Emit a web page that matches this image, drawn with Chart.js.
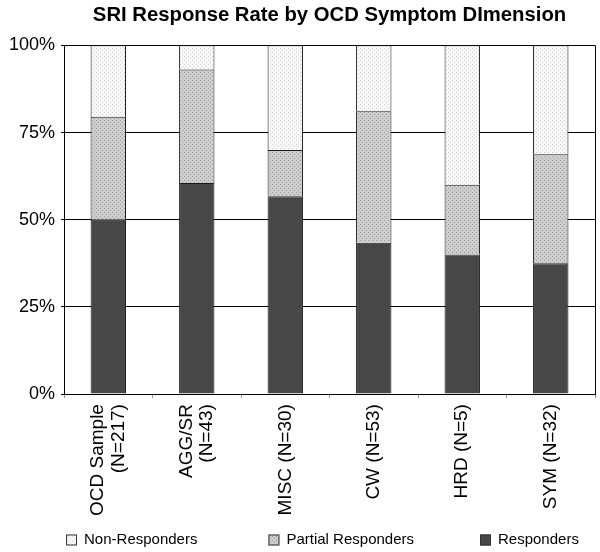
<!DOCTYPE html>
<html>
<head>
<meta charset="utf-8">
<script src="https://cdn.jsdelivr.net/npm/chart.js@4/dist/chart.umd.min.js"></script>
<style>
  html, body { margin: 0; padding: 0; background: #fff; }
  #wrap { width: 600px; height: 552px; }
</style>
</head>
<body>
<div id="wrap"><canvas id="chart"></canvas></div>
<script>
'use strict';

var categories = [['OCD Sample', '(N=217)'], ['AGG/SR', '(N=43)'], 'MISC (N=30)', 'CW (N=53)', 'HRD (N=5)', 'SYM (N=32)'];
var responders = [50, 60.5, 56.7, 43.4, 40, 37.5];
var partialResponders = [29.5, 32.6, 13.3, 37.7, 20, 31.25];
var nonResponders = [20.5, 6.9, 30, 18.9, 40, 31.25];
var yTicks = [0, 25, 50, 75, 100];

var FONT = '"Liberation Sans", Arial, Helvetica, sans-serif';

// little stipple fills like the printed figure
var makePattern = function(bg, dot) {
	var c = document.createElement('canvas');
	c.width = 4;
	c.height = 4;
	var g = c.getContext('2d');
	g.fillStyle = bg;
	g.fillRect(0, 0, 4, 4);
	g.fillStyle = dot;
	g.fillRect(0, 0, 1, 1);
	g.fillRect(2, 2, 1, 1);
	return g.createPattern(c, 'repeat');
};

var ctx = document.getElementById('chart').getContext('2d');
var nonFill = makePattern('#f7f7f7', '#d2d2d2');
var partialFill = makePattern('#cdcdcd', '#a0a0a0');
var respFill = '#474747';

// centre the title over the plot area, not the canvas
var titleShift = {
	id: 'titleShift',
	afterLayout: function(chart) {
		var t = chart.titleBlock;
		if (!t) return;
		var d = (chart.chartArea.left + chart.chartArea.right) / 2 - (t.left + t.right) / 2;
		t.left += d;
		t.right += d;
	}
};

// two-line tick labels: centre the whole block on the bar
var centreLabels = {
	id: 'centreLabels',
	beforeDraw: function(chart) {
		var items = chart.scales.x.getLabelItems();
		items.forEach(function(it) {
			if (Array.isArray(it.label) && !it._moved) {
				it.options.translation[0] -= (it.label.length - 1) * it.font.lineHeight / 2;
				it._moved = true;
			}
		});
	}
};

// right frame line + widely spaced legend row
var legendGaps = [71, 66];
var frameAndLegend = {
	id: 'frameAndLegend',
	afterDraw: function(chart) {
		var a = chart.chartArea;
		var c = chart.ctx;
		c.save();
		c.strokeStyle = '#000';
		c.lineWidth = 1;
		c.beginPath();
		c.moveTo(Math.round(a.right) + 0.5, a.top);
		c.lineTo(Math.round(a.right) + 0.5, a.bottom);
		c.stroke();

		c.font = '15px ' + FONT;
		c.textBaseline = 'middle';
		c.textAlign = 'left';
		var x = a.left + 2;
		var y = 540;
		var ds = chart.data.datasets.slice().reverse();
		for (var i = 0; i < ds.length; i++) {
			c.fillStyle = ds[i].backgroundColor;
			c.fillRect(x, y - 5.5, 11, 11);
			c.strokeStyle = '#333';
			c.strokeRect(x + 0.5, y - 5, 10, 10);
			c.fillStyle = '#000';
			c.fillText(ds[i].label, x + 18, y);
			x += 18 + c.measureText(ds[i].label).width + (legendGaps[i] || 0);
		}
		c.restore();
	}
};

var chart = new Chart(ctx, {
	type: 'bar',
	data: {
		labels: categories,
		datasets: [{
			label: 'Responders',
			data: responders,
			backgroundColor: respFill,
			borderColor: '#1a1a1a',
			borderWidth: 1
		}, {
			label: 'Partial Responders',
			data: partialResponders,
			backgroundColor: partialFill,
			borderColor: '#1a1a1a',
			borderWidth: 1
		}, {
			label: 'Non-Responders',
			data: nonResponders,
			backgroundColor: nonFill,
			borderColor: '#1a1a1a',
			borderWidth: 1
		}]
	},
	options: {
		responsive: true,
		maintainAspectRatio: false,
		animation: false,
		layout: {
			padding: { left: 3, right: 5, top: 3, bottom: 30 }
		},
		datasets: {
			bar: {
				categoryPercentage: 1,
				barPercentage: 0.4
			}
		},
		plugins: {
			legend: { display: false },
			tooltip: { enabled: false },
			title: {
				display: true,
				text: 'SRI Response Rate by OCD Symptom DImension',
				color: '#000',
				font: { family: FONT, size: 20.3, weight: 'bold' },
				padding: { top: 0, bottom: 18 }
			}
		},
		scales: {
			x: {
				stacked: true,
				afterFit: function(scale) {
					scale.paddingLeft = 0;
					scale.paddingRight = 0;
				},
				grid: {
					drawOnChartArea: false,
					tickLength: 4,
					color: '#999'
				},
				border: { color: '#000', width: 1 },
				ticks: {
					autoSkip: false,
					minRotation: 90,
					maxRotation: 90,
					padding: 6,
					color: '#000',
					font: { family: FONT, size: 19, lineHeight: 1.1 }
				}
			},
			y: {
				stacked: true,
				min: 0,
				max: 100,
				afterBuildTicks: function(scale) {
					scale.ticks = yTicks.map(function(v) { return { value: v }; });
				},
				afterFit: function(scale) {
					scale.paddingTop = 0;
					scale.paddingBottom = 0;
				},
				grid: {
					color: '#000',
					lineWidth: 1,
					tickLength: 3
				},
				border: { color: '#000', width: 1 },
				ticks: {
					padding: 6,
					color: '#000',
					font: { family: FONT, size: 18 },
					callback: function(v) { return v + '%'; }
				}
			}
		}
	},
	plugins: [titleShift, centreLabels, frameAndLegend]
});
</script>
</body>
</html>
